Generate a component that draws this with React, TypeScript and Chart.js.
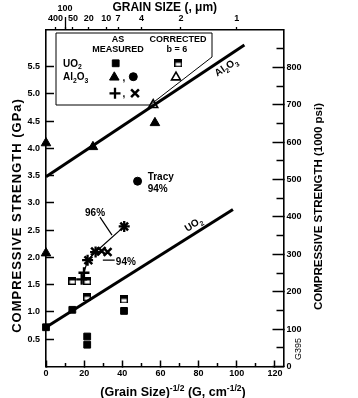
import React, { useEffect, useRef } from 'react';
import { Chart, registerables, PointElement } from 'chart.js';

Chart.register(...registerables);

const FONT = "'Liberation Sans', Arial, Helvetica, sans-serif";

// ---------- data ----------
const uo2LineX = [0, 98];
const uo2LineY = [0.72, 2.88];
const al2o3LineX = [0, 104];
const al2o3LineY = [3.48, 5.9];

const uo2MeasX = [0, 13.8, 40.9, 21.6, 21.6];
const uo2MeasY = [0.72, 1.04, 1.02, 0.55, 0.4];
const uo2CorrX = [13.8, 21.6, 21.6, 40.9];
const uo2CorrY = [1.57, 1.57, 1.27, 1.23];

const al2o3MeasX = [0, 0, 24.6, 57.1];
const al2o3MeasY = [4.1, 2.08, 4.03, 4.47];
const al2o3CorrX = [56.2];
const al2o3CorrY = [4.8];
const tracyX = [48];
const tracyY = [3.4];

const plusX = [18.7, 19.9, 21.8, 26.0, 41.0];
const plusY = [1.6, 1.72, 1.95, 2.1, 2.57];
const crossX = [22.2, 25.7, 29.2, 32.3, 41.0];
const crossY = [1.95, 2.11, 2.12, 2.1, 2.57];

// ---------- axes ----------
const X_MAX = 124.5;
const GPA_MAX = 6.174;
const PSI_MAX = 900;
const xMajorTicks = [0, 20, 40, 60, 80, 100, 120];
const xMinorTicks = [10, 30, 50, 70, 90, 110];
const gpaTicks = [0.5, 1.0, 1.5, 2.0, 2.5, 3.0, 3.5, 4.0, 4.5, 5.0, 5.5];
const psiMajorTicks = [0, 100, 200, 300, 400, 500, 600, 700, 800];
const psiMinorTicks = [50, 150, 250, 350, 450, 550, 650, 750, 850];
const grainSizeUm = [400, 100, 50, 20, 10, 7, 4, 2, 1];
const grainSizeLabels = ['400', '100', '50', '20', '10', '7', '4', '2', '1'];
// (grain size)^-1/2 in cm^-1/2 for a grain size in micrometres
const grainToX = (g: number) => 1 / Math.sqrt(g * 1e-4);

const pts = (xs: number[], ys: number[]) => xs.map((x, i) => ({ x, y: ys[i] }));

type Seg = [string, number];
function drawRich(ctx: CanvasRenderingContext2D, segs: Seg[], x: number, yMid: number, size: number, align: string, weight = 'bold') {
  const fonts = segs.map(([, m]) => `${weight} ${m ? size * 0.68 : size}px ${FONT}`);
  let total = 0;
  const ws = segs.map(([t], i) => {
    ctx.font = fonts[i];
    const w = ctx.measureText(t).width;
    total += w;
    return w;
  });
  let cx = align === 'center' ? x - total / 2 : align === 'right' ? x - total : x;
  const base = yMid + size * 0.36;
  ctx.textAlign = 'left';
  ctx.textBaseline = 'alphabetic';
  segs.forEach(([t, m], i) => {
    ctx.font = fonts[i];
    const dy = m === 1 ? size * 0.28 : m === 2 ? -size * 0.42 : 0;
    ctx.fillText(t, cx, base + dy);
    cx += ws[i];
  });
}

function makeHalfSquare() {
  const s = 8;
  const c = document.createElement('canvas');
  c.width = s;
  c.height = s;
  const g = c.getContext('2d')!;
  g.fillStyle = '#fff';
  g.fillRect(0, 0, s, s);
  g.fillStyle = '#000';
  g.fillRect(0, 0, s, 3.5);
  g.strokeStyle = '#000';
  g.lineWidth = 1.4;
  g.strokeRect(0.7, 0.7, s - 1.4, s - 1.4);
  return c;
}

const tickFont = { family: FONT, size: 9, weight: 'bold' as const };
const fixW = (w: number) => (s: any) => {
  s.width = w;
  s.paddingTop = 0; s.paddingBottom = 0; s.paddingLeft = 0; s.paddingRight = 0;
};
const fixH = (h: number) => (s: any) => {
  s.height = h;
  s.paddingTop = 0; s.paddingBottom = 0; s.paddingLeft = 0; s.paddingRight = 0;
};
const setTicks = (vals: number[]) => (s: any) => {
  s.ticks = vals.map((value) => ({ value }));
};

export default function App() {
  const ref = useRef<HTMLCanvasElement>(null);

  useEffect(() => {
    const canvas = ref.current!;
    const halfSq = makeHalfSquare();

    const st: any = {
      uo2Meas: { pointStyle: 'rect', radius: 4.8, borderWidth: 1, borderColor: '#000', backgroundColor: '#000' },
      uo2Corr: { pointStyle: halfSq, radius: 4, borderWidth: 0, borderColor: '#000', backgroundColor: '#000' },
      alMeas: { pointStyle: 'triangle', radius: 5.5, borderWidth: 1, borderColor: '#000', backgroundColor: '#000' },
      alCorr: { pointStyle: 'triangle', radius: 5.2, borderWidth: 1.6, borderColor: '#000', backgroundColor: '#fff' },
      tracy: { pointStyle: 'circle', radius: 4, borderWidth: 1, borderColor: '#000', backgroundColor: '#000' },
      plus: { pointStyle: 'cross', radius: 5.5, borderWidth: 2.3, borderColor: '#000', backgroundColor: '#000' },
      cross: { pointStyle: 'crossRot', radius: 5.5, borderWidth: 2.5, borderColor: '#000', backgroundColor: '#000' },
    };
    const pointDs = (label: string, data: any[], s: any) => ({
      label,
      data,
      showLine: false,
      pointStyle: s.pointStyle,
      pointRadius: s.radius,
      pointBorderWidth: s.borderWidth,
      pointBorderColor: s.borderColor,
      pointBackgroundColor: s.backgroundColor,
      clip: false,
    });
    const marker = (ctx: CanvasRenderingContext2D, x: number, y: number, s: any) => {
      const p: any = new (PointElement as any)({ x, y, options: { ...s, rotation: 0, hitRadius: 0, hoverRadius: 0 } });
      p.draw(ctx);
    };

    const annot = {
      id: 'annot',
      afterDraw(chart: any) {
        const ctx: CanvasRenderingContext2D = chart.ctx;
        const xs = chart.scales.x;
        const ys = chart.scales.y;
        const px = (v: number) => xs.getPixelForValue(v);
        const py = (v: number) => ys.getPixelForValue(v);
        ctx.save();
        ctx.fillStyle = '#000';
        ctx.strokeStyle = '#000';

        // legend box
        ctx.lineWidth = 1;
        ctx.beginPath();
        ctx.moveTo(56, 33);
        ctx.lineTo(212, 33);
        ctx.lineTo(212, 57);
        ctx.lineTo(150, 105);
        ctx.lineTo(56, 105);
        ctx.closePath();
        ctx.stroke();
        drawRich(ctx, [['AS', 0]], 118, 39, 9, 'center');
        drawRich(ctx, [['MEASURED', 0]], 118, 49, 9, 'center');
        drawRich(ctx, [['CORRECTED', 0]], 178, 39, 9, 'center');
        drawRich(ctx, [['b = 6', 0]], 177, 49, 9, 'center');
        drawRich(ctx, [['UO', 0], ['2', 1]], 63, 63, 10, 'left');
        drawRich(ctx, [['Al', 0], ['2', 1], ['O', 0], ['3', 1]], 63, 76.5, 10, 'left');
        marker(ctx, 115.7, 63.3, st.uo2Meas);
        marker(ctx, 178.3, 63.3, st.uo2Corr);
        marker(ctx, 114.3, 77.3, st.alMeas);
        drawRich(ctx, [[',', 0]], 124, 77, 10, 'center');
        marker(ctx, 133.3, 76.7, st.tracy);
        marker(ctx, 176, 77.3, st.alCorr);
        marker(ctx, 115, 93.3, st.plus);
        drawRich(ctx, [[',', 0]], 124, 93, 10, 'center');
        marker(ctx, 135, 93.3, st.cross);

        // annotations
        ctx.lineWidth = 1.2;
        ctx.beginPath();
        ctx.moveTo(px(28.3), py(2.74));
        ctx.lineTo(px(34.6), py(2.41));
        ctx.moveTo(px(29.8), py(1.95));
        ctx.lineTo(px(36.0), py(1.95));
        ctx.stroke();
        drawRich(ctx, [['96%', 0]], px(25.7), py(2.83), 10, 'center');
        drawRich(ctx, [['94%', 0]], px(36.6), py(1.93), 10, 'left');
        drawRich(ctx, [['Tracy', 0]], px(53.3), py(3.49), 10, 'left');
        drawRich(ctx, [['94%', 0]], px(53.3), py(3.26), 10, 'left');

        // line labels
        const lineLabel = (lx: number[], ly: number[], at: number, off: number, segs: Seg[]) => {
          const x1 = px(lx[0]), y1 = py(ly[0]), x2 = px(lx[1]), y2 = py(ly[1]);
          const th = Math.atan2(y2 - y1, x2 - x1);
          const yv = ly[0] + ((ly[1] - ly[0]) * (at - lx[0])) / (lx[1] - lx[0]);
          const nx = Math.sin(th), ny = -Math.cos(th);
          ctx.save();
          ctx.translate(px(at) + nx * off, py(yv) + ny * off);
          ctx.rotate(th);
          drawRich(ctx, segs, 0, 0, 10, 'center');
          ctx.restore();
        };
        lineLabel(uo2LineX, uo2LineY, 79.7, 9, [['UO', 0], ['2', 1]]);
        lineLabel(al2o3LineX, al2o3LineY, 92, -8, [['Al', 0], ['2', 1], ['O', 0], ['3', 1]]);

        // axis titles
        ctx.save();
        ctx.translate(16.7, 215.5);
        ctx.rotate(-Math.PI / 2);
        (ctx as any).letterSpacing = '1px';
        drawRich(ctx, [['COMPRESSIVE STRENGTH (GPa)', 0]], 0, 0, 13, 'center');
        (ctx as any).letterSpacing = '0px';
        ctx.restore();

        ctx.save();
        ctx.translate(318.3, 206.5);
        ctx.rotate(-Math.PI / 2);
        drawRich(ctx, [['COMPRESSIVE STRENGTH (1000 psi)', 0]], 0, 0, 11.5, 'center');
        ctx.restore();

        drawRich(ctx, [['(Grain Size)', 0], ['-1/2', 2], [' (G, cm', 0], ['-1/2', 2], [')', 0]], 173, 391.5, 12.5, 'center');

        ctx.save();
        ctx.translate(298, 349);
        ctx.rotate(-Math.PI / 2);
        drawRich(ctx, [['G395', 0]], 0, 0, 9, 'center', 'normal');
        ctx.restore();

        ctx.restore();
      },
    };

    const chart = new Chart(canvas, {
      type: 'scatter',
      data: {
        datasets: [
          { label: 'UO2 fit', data: pts(uo2LineX, uo2LineY), showLine: true, borderColor: '#000', borderWidth: 3, pointRadius: 0, clip: false } as any,
          { label: 'Al2O3 fit', data: pts(al2o3LineX, al2o3LineY), showLine: true, borderColor: '#000', borderWidth: 3, pointRadius: 0, clip: false } as any,
          { ...pointDs('96%', pts(plusX, plusY), st.plus), showLine: true, borderColor: '#000', borderWidth: 1.2 } as any,
          pointDs('94%', pts(crossX, crossY), st.cross) as any,
          pointDs('UO2 as measured', pts(uo2MeasX, uo2MeasY), st.uo2Meas) as any,
          pointDs('UO2 corrected', pts(uo2CorrX, uo2CorrY), st.uo2Corr) as any,
          pointDs('Al2O3 as measured', pts(al2o3MeasX, al2o3MeasY), st.alMeas) as any,
          pointDs('Al2O3 corrected', pts(al2o3CorrX, al2o3CorrY), st.alCorr) as any,
          pointDs('Tracy 94%', pts(tracyX, tracyY), st.tracy) as any,
        ],
      },
      options: {
        responsive: false,
        animation: false,
        events: [],
        layout: { padding: 0 },
        plugins: { legend: { display: false }, tooltip: { enabled: false } },
        scales: {
          x: {
            type: 'linear', axis: 'x', position: 'bottom', weight: 10, min: 0, max: X_MAX,
            afterBuildTicks: setTicks(xMajorTicks), afterFit: fixH(31.5),
            ticks: { font: tickFont, color: '#000', padding: 7.5, autoSkip: false, maxRotation: 0, minRotation: 0, callback: (v: any) => String(v) },
            grid: { drawOnChartArea: false, drawTicks: true, tickLength: -6, tickWidth: 1.5, tickColor: '#000' },
            border: { display: true, color: '#000', width: 1.6 },
          },
          xMinor: {
            type: 'linear', axis: 'x', position: 'bottom', weight: 0, min: 0, max: X_MAX,
            afterBuildTicks: setTicks(xMinorTicks), afterFit: fixH(0),
            ticks: { display: false, autoSkip: false, maxRotation: 0, minRotation: 0 },
            grid: { drawOnChartArea: false, drawTicks: true, tickLength: -3.5, tickWidth: 1.5, tickColor: '#000' },
            border: { display: false },
          },
          xTop: {
            type: 'linear', axis: 'x', position: 'top', weight: 10, min: 0, max: X_MAX,
            afterBuildTicks: setTicks(grainSizeUm.map(grainToX)), afterFit: fixH(30),
            ticks: {
              font: tickFont, color: '#000', padding: 2.6, autoSkip: false, maxRotation: 0, minRotation: 0,
              callback: (_v: any, i: number) => (grainSizeLabels[i] === '100' ? ['100', ''] : grainSizeLabels[i]),
            },
            grid: { drawOnChartArea: false, drawTicks: true, tickLength: 3, tickWidth: 1.3, tickColor: '#000' },
            border: { display: true, color: '#000', width: 1.6 },
            title: { display: true, text: 'GRAIN SIZE (, μm)', color: '#000', padding: 0, font: { family: FONT, size: 12, weight: 'bold' } },
          },
          xTopLong: {
            type: 'linear', axis: 'x', position: 'top', weight: 0, min: 0, max: X_MAX,
            afterBuildTicks: setTicks([grainToX(100)]), afterFit: fixH(0),
            ticks: { display: false, autoSkip: false, maxRotation: 0, minRotation: 0 },
            grid: { drawOnChartArea: false, drawTicks: true, tickLength: 13, tickWidth: 1.3, tickColor: '#000' },
            border: { display: false },
          },
          y: {
            type: 'linear', axis: 'y', position: 'left', weight: 10, min: 0, max: GPA_MAX,
            afterBuildTicks: setTicks(gpaTicks), afterFit: fixW(46),
            ticks: { font: tickFont, color: '#000', padding: 14, autoSkip: false, callback: (v: any) => Number(v).toFixed(1) },
            grid: { drawOnChartArea: false, drawTicks: true, tickLength: -8, tickWidth: 1.5, tickColor: '#000' },
            border: { display: true, color: '#000', width: 1.6 },
          },
          y2: {
            type: 'linear', axis: 'y', position: 'right', weight: 10, min: 0, max: PSI_MAX,
            afterBuildTicks: setTicks(psiMajorTicks), afterFit: fixW(74.5),
            ticks: { font: tickFont, color: '#000', padding: 14, autoSkip: false, callback: (v: any) => String(v) },
            grid: { drawOnChartArea: false, drawTicks: true, tickLength: -11, tickWidth: 1.5, tickColor: '#000' },
            border: { display: true, color: '#000', width: 1.6 },
          },
          y2Minor: {
            type: 'linear', axis: 'y', position: 'right', weight: 0, min: 0, max: PSI_MAX,
            afterBuildTicks: setTicks(psiMinorTicks), afterFit: fixW(0),
            ticks: { display: false, autoSkip: false },
            grid: { drawOnChartArea: false, drawTicks: true, tickLength: -7, tickWidth: 1.5, tickColor: '#000' },
            border: { display: false },
          },
        } as any,
      },
      plugins: [annot],
    } as any);

    return () => chart.destroy();
  }, []);

  return (
    <div style={{ position: 'fixed', left: 0, top: 0, width: 358, height: 398, background: '#fff' }}>
      <canvas ref={ref} width={358} height={398} style={{ width: 358, height: 398, display: 'block' }} />
    </div>
  );
}
